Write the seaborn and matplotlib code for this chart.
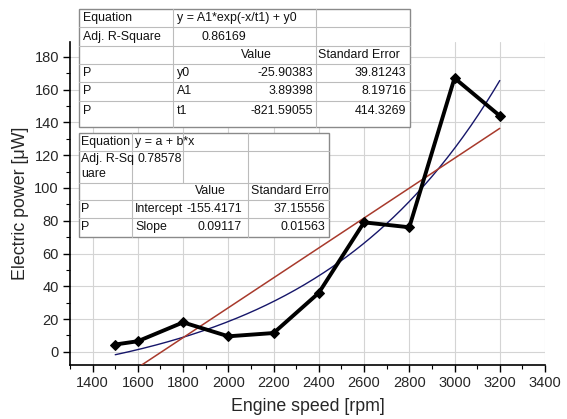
import numpy as np
import pandas as pd
import matplotlib
matplotlib.use("Agg")
import matplotlib.pyplot as plt
import seaborn as sns
from matplotlib.patches import Rectangle

# ---- data ----
speed = [1500, 1600, 1800, 2000, 2200, 2400, 2600, 2800, 3000, 3200]
power = [4.5, 6.5, 18, 9.5, 11.5, 36, 79, 76, 167, 144]

# exponential fit parameters (y = A1*exp(-x/t1) + y0)
exp_y0 = -25.90383
exp_A1 = 3.89398
exp_t1 = -821.59055
exp_r2 = 0.86169
exp_err = ["39.81243", "8.19716", "414.3269"]

# linear fit parameters (y = a + b*x)
lin_a = -155.4171
lin_b = 0.09117
lin_r2 = 0.78578
lin_err = ["37.15556", "0.01563"]

x_ticks = [1400, 1600, 1800, 2000, 2200, 2400, 2600, 2800, 3000, 3200, 3400]
y_ticks = [0, 20, 40, 60, 80, 100, 120, 140, 160, 180]

sns.set_theme(style="white")
plt.rcParams['font.family'] = ['Liberation Sans', 'DejaVu Sans']

W, H = 567, 419
fig = plt.figure(figsize=(W / 100, H / 100), dpi=100)
fig.patch.set_facecolor("white")
ax = fig.add_axes([70 / W, 1 - 365 / H, (545 - 70) / W, (365 - 42) / H])
ax.set_facecolor("white")

df = pd.DataFrame({"speed": speed, "power": power})

xe = np.linspace(speed[0], speed[-1], 200)
ye = exp_A1 * np.exp(-xe / exp_t1) + exp_y0
sns.lineplot(x=xe, y=ye, ax=ax, color="#16166a", lw=1.0, zorder=3)

xl = np.array([speed[1], speed[-1]])
yl = lin_a + lin_b * xl
sns.lineplot(x=xl, y=yl, ax=ax, color="#a83a2c", lw=1.1, zorder=3)

sns.lineplot(data=df, x="speed", y="power", ax=ax, color="black", lw=2.8,
             marker="D", markersize=5.5, markeredgecolor="black", zorder=4)

ax.set_xlim(1300, 3400)
ax.set_ylim(-8, 189)
ax.set_xticks(x_ticks)
ax.set_yticks(y_ticks)
ax.set_xticks(np.arange(1300, 3401, 100), minor=True)
ax.set_yticks(np.arange(-0, 190, 10), minor=True)
ax.grid(True, which="major", color="#d4d4d4", lw=0.8)
ax.tick_params(axis="both", which="major", direction="out", length=5, width=1,
               labelsize=10.5, color="black", pad=3, bottom=True, left=True)
ax.tick_params(axis="both", which="minor", direction="out", length=3, width=0.8,
               color="black", bottom=True, left=True)
for s in ["top", "right"]:
    ax.spines[s].set_visible(False)
for s in ["left", "bottom"]:
    ax.spines[s].set_color("black")
    ax.spines[s].set_linewidth(1.2)
ax.set_xlabel("Engine speed [rpm]", fontsize=12.8, labelpad=6)
ax.set_ylabel("Electric power [μW]", fontsize=12.8, labelpad=4)


# ---- tables (figure pixel coordinates, top origin) ----
def fx(px):
    return px / W


def fy(py):
    return 1 - py / H


def hline(x0, x1, y, color="#bcbcbc", lw=0.8):
    fig.add_artist(plt.Line2D([fx(x0), fx(x1)], [fy(y), fy(y)], color=color, lw=lw,
                              transform=fig.transFigure, zorder=11))


def vline(x, y0, y1, color="#bcbcbc", lw=0.8):
    fig.add_artist(plt.Line2D([fx(x), fx(x)], [fy(y0), fy(y1)], color=color, lw=lw,
                              transform=fig.transFigure, zorder=11))


def txt(x, y, s, ha="left"):
    fig.text(fx(x), fy(y), s, ha=ha, va="center", fontsize=8.9, color="#111111", zorder=12)


def box(x0, y0, x1, y1):
    fig.add_artist(Rectangle((fx(x0), fy(y1)), fx(x1) - fx(x0), fy(y0) - fy(y1),
                             transform=fig.transFigure, facecolor="white",
                             edgecolor="#8a8a8a", lw=1.0, zorder=10))


# table 1
box(79, 9, 410, 127)
for r in [27, 46, 64, 82, 101]:
    hline(79, 410, r)
vline(173, 9, 127)
vline(316, 9, 127)
mid = [18, 37, 55, 73, 91, 111]
txt(83, mid[0], "Equation")
txt(177, mid[0], "y = A1*exp(-x/t1) + y0")
txt(83, mid[1], "Adj. R-Square")
txt(201, mid[1], f"{exp_r2:.5f}")
txt(241, mid[2], "Value")
txt(318, mid[2], "Standard Error")
names1 = ["y0", "A1", "t1"]
vals1 = [exp_y0, exp_A1, exp_t1]
for i in range(3):
    txt(83, mid[3 + i], "P")
    txt(177, mid[3 + i], names1[i])
    txt(313, mid[3 + i], f"{vals1[i]:.5f}", ha="right")
    txt(406, mid[3 + i], exp_err[i], ha="right")

# table 2
box(79, 133, 329, 237)
for r in [151, 183, 200, 218]:
    hline(79, 329, r)
vline(132, 133, 237)
vline(183, 133, 183)
vline(248, 133, 237)
txt(81, 142, "Equation")
txt(135, 142, "y = a + b*x")
txt(81, 159, "Adj. R-Sq")
txt(81, 174, "uare")
txt(137, 159, f"{lin_r2:.5f}")
txt(195, 191, "Value")
txt(251, 191, "Standard Erro")
names2 = ["Intercept", "Slope"]
vals2 = [f"{lin_a:.4f}", f"{lin_b:.5f}"]
rows2 = [209, 227]
for i in range(2):
    txt(81, rows2[i], "P")
    txt(135, rows2[i], names2[i])
    txt(242, rows2[i], vals2[i], ha="right")
    txt(325, rows2[i], lin_err[i], ha="right")

fig.savefig("out.png", dpi=100, facecolor="white")
